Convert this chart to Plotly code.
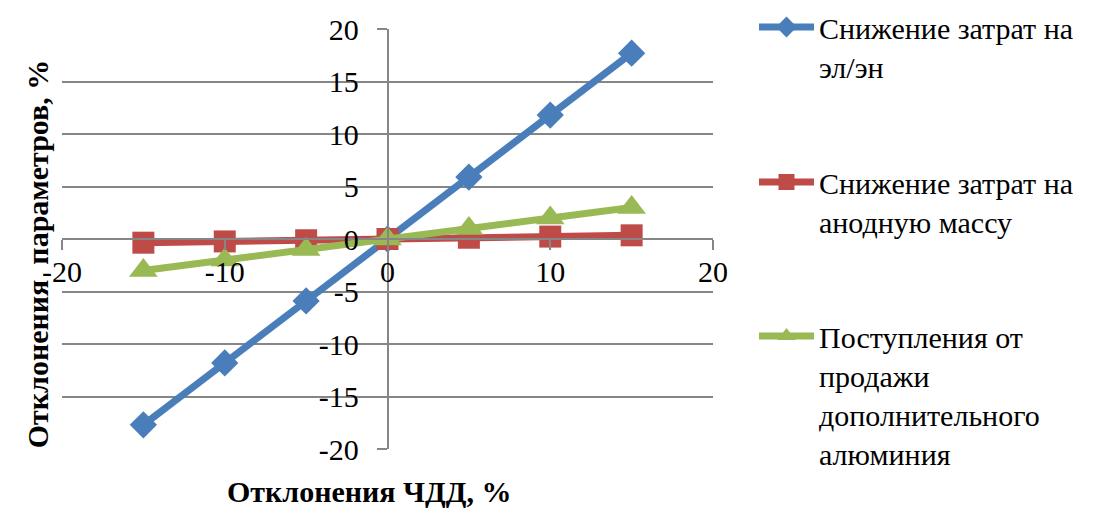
import plotly.graph_objects as go

# Отклонения ЧДД, %
x_vals = [-15, -10, -5, 0, 5, 10, 15]

# Отклонения параметров, %
energy_cost = [-17.7, -11.8, -5.9, 0, 5.9, 11.8, 17.7]
anode_cost = [-0.35, -0.23, -0.12, 0, 0.12, 0.23, 0.35]
aluminium_sales = [-3.0, -2.0, -1.0, 0, 1.0, 2.0, 3.0]

series_names = [
    "Снижение затрат на<br>эл/эн",
    "Снижение затрат на<br>анодную массу",
    "Поступления от<br>продажи<br>дополнительного<br>алюминия",
]
x_ticks = [-20, -10, 0, 10, 20]
x_tick_text = ["-20", "-10", "0", "10", "20"]
y_ticks = [-20, -15, -10, -5, 0, 5, 10, 15, 20]
y_tick_text = ["-20", "-15", "-10", "-5", "0", "5", "10", "15", "20"]

FONT = "Liberation Serif"
FS = 30
GRID = "#868686"

W, H = 1095, 509
L, R, T, B = 62, 382, 22, 60

fig = go.Figure()

styles = [
    ("#4A7EBB", "diamond", 21, "legend"),
    ("#BE4B48", "square", 22, "legend2"),
    ("#98B954", "triangle-up", 25, "legend3"),
]
for name, ys, (color, symbol, size, leg) in zip(
    series_names, [energy_cost, anode_cost, aluminium_sales], styles
):
    fig.add_trace(
        go.Scatter(
            x=x_vals,
            y=ys,
            name=name,
            mode="lines+markers",
            line=dict(color=color, width=7),
            marker=dict(symbol=symbol, size=size, color=color,
                        line=dict(width=0)),
            legend=leg,
            showlegend=True,
        )
    )

tick_font = dict(family=FONT, size=FS)

fig.update_layout(
    width=W,
    height=H,
    margin=dict(l=L, r=R, t=T, b=B),
    paper_bgcolor="white",
    plot_bgcolor="white",
    showlegend=True,
    font=dict(family=FONT, size=FS, color="#000000"),
    xaxis=dict(
        range=[-20, 20],
        anchor="free",
        position=0.5,
        showline=True,
        linecolor=GRID,
        linewidth=1.5,
        ticks="outside",
        ticklen=10,
        tickwidth=1.5,
        tickcolor=GRID,
        zeroline=False,
        tickfont=tick_font,
        tickvals=x_ticks,
        ticktext=x_tick_text,
        showgrid=False,
        ticklabelstandoff=-4,
    ),
    yaxis=dict(
        range=[-20, 20],
        anchor="free",
        position=0.5,
        showline=True,
        linecolor=GRID,
        linewidth=1.5,
        ticks="outside",
        ticklen=10,
        tickwidth=1.5,
        tickcolor=GRID,
        zeroline=False,
        tickfont=tick_font,
        tickvals=y_ticks,
        ticktext=y_tick_text,
        showgrid=True,
        gridcolor=GRID,
        gridwidth=1.5,
        ticklabelstandoff=12,
    ),
)

legend_common = dict(
    xref="container",
    yref="container",
    xanchor="left",
    yanchor="top",
    valign="top",
    bgcolor="rgba(0,0,0,0)",
    font=dict(family=FONT, size=FS),
    itemwidth=55,
    tracegroupgap=0,
)
fig.update_layout(
    legend=dict(**legend_common, x=754 / W, y=1 - 1 / H),
    legend2=dict(**legend_common, x=754 / W, y=1 - 156 / H),
    legend3=dict(**legend_common, x=754 / W, y=1 - 310 / H),
)

pw, ph = W - L - R, H - T - B
fig.add_annotation(
    text="<b>Отклонения ЧДД, %</b>",
    xref="paper", yref="paper",
    x=(369 - L) / pw, y=(H - B - 492) / ph,
    xanchor="center", yanchor="middle",
    showarrow=False,
    font=dict(family=FONT, size=FS),
)
fig.add_annotation(
    text="<b>Отклонения\u00a0 параметров, %</b>",
    xref="paper", yref="paper",
    x=(37 - L) / pw, y=(H - B - 251) / ph,
    xanchor="center", yanchor="middle",
    textangle=-90,
    showarrow=False,
    font=dict(family=FONT, size=FS),
)

fig.write_html("out.html")
